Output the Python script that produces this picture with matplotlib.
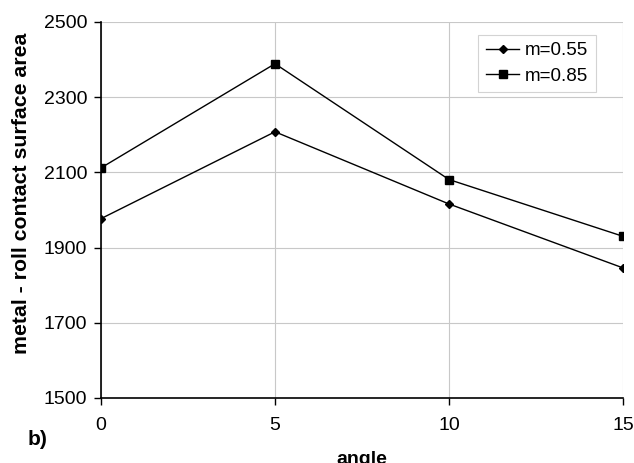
import matplotlib
matplotlib.use("Agg")
import matplotlib.pyplot as plt

angles = [0, 5, 10, 15]
m055 = [1977, 2208, 2016, 1846]
m085 = [2112, 2389, 2081, 1930]
yticks = [1500, 1700, 1900, 2100, 2300, 2500]
xticks = [0, 5, 10, 15]

plt.rcParams['font.family'] = ['Liberation Sans', 'DejaVu Sans']

fig = plt.figure(figsize=(6.34, 4.63), dpi=100)
ax = fig.add_axes([101/634, 65/463, 522/634, 376/463])

ax.plot(angles, m055, color='black', lw=1, marker='D', ms=4.5, label='m=0.55')
ax.plot(angles, m085, color='black', lw=1, marker='s', ms=5.5, label='m=0.85')

ax.set_xlim(0, 15)
ax.set_ylim(1500, 2500)
ax.set_xticks(xticks)
ax.set_yticks(yticks)
ax.grid(True, color='#c8c8c8', lw=0.8)
ax.set_axisbelow(True)
for s in ['top', 'right']:
    ax.spines[s].set_visible(False)
for s in ['left', 'bottom']:
    ax.spines[s].set_linewidth(1.2)
ax.tick_params(axis='both', labelsize=14, length=5, width=1, colors='black')
ax.tick_params(axis='x', pad=9)
ax.tick_params(axis='y', pad=5)
for lbl in ax.get_xticklabels() + ax.get_yticklabels():
    lbl.set_clip_on(False)

ax.set_xlabel('angle', fontsize=14, fontweight='bold', labelpad=12)
ax.set_ylabel('metal - roll contact surface area', fontsize=15.3, fontweight='bold')
ax.yaxis.label.set_va('center')
ax.yaxis.set_label_coords(-0.153, 0.545)

leg = ax.legend(loc='upper right', bbox_to_anchor=(0.948, 0.966), borderaxespad=0,
                fontsize=13.5, frameon=True, fancybox=False, edgecolor='#c8c8c8',
                handlelength=1.8, borderpad=0.4, labelspacing=0.45, handletextpad=0.3)
leg.get_frame().set_linewidth(0.8)

fig.text(0.043, 0.038, 'b)', fontsize=15, fontweight='bold')

fig.savefig('out.png', dpi=100)
